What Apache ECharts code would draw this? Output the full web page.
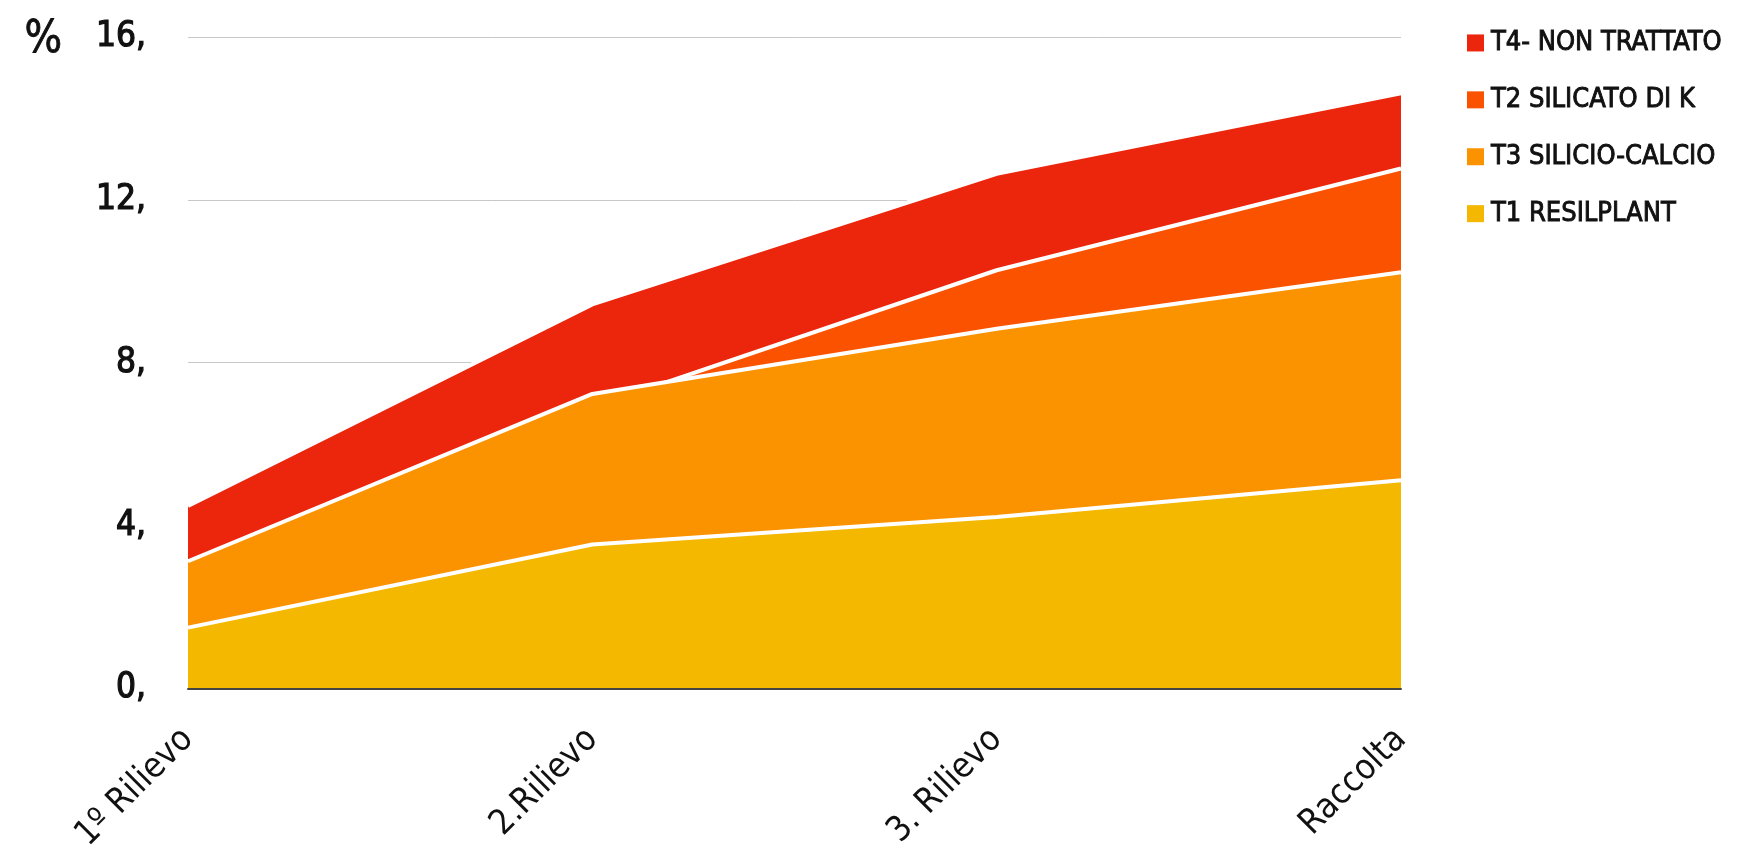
<!DOCTYPE html>
<html>
<head>
<meta charset="utf-8">
<script src="https://cdn.jsdelivr.net/npm/echarts@6/dist/echarts.min.js"></script>
<style>
  html, body { margin: 0; padding: 0; background: #fff; }
  #chart { width: 1737px; height: 855px; }
</style>
</head>
<body>
<div id="chart"></div>
<script>
// categorie asse x
const categories = ['1º Rilievo', '2.Rilievo', '3. Rilievo', 'Raccolta']

// valori (%)
const t4NonTrattato = [4.48, 9.43, 12.64, 14.62]
const t2SilicatoK = [3.0, 6.9, 10.27, 12.77]
const t3SilicioCalcio = [3.12, 7.23, 8.83, 10.22]
const t1Resilplant = [1.49, 3.53, 4.21, 5.11]

const seriesNames = ['T4- NON TRATTATO', 'T2 SILICATO DI K', 'T3 SILICIO-CALCIO', 'T1 RESILPLANT']
const seriesColors = ['#ec250d', '#fb5200', '#fb9300', '#f5b800']
const seriesData = [t4NonTrattato, t2SilicatoK, t3SilicioCalcio, t1Resilplant]

const font = '"DejaVu Sans Condensed", "Noto Sans", sans-serif'

const chart = echarts.init(document.getElementById('chart'))

const option = {
  backgroundColor: '#fff',
  animation: false,
  grid: { left: 188, right: 336, top: 37, bottom: 166, containLabel: false },
  legend: {
    orient: 'vertical',
    left: 1462,
    top: 24,
    itemWidth: 17,
    itemHeight: 17,
    itemGap: 29,
    icon: 'rect',
    textStyle: {
      fontFamily: font, fontSize: 27, color: '#111',
      textBorderColor: '#111', textBorderWidth: 0.9,
      padding: [0, 0, 0, 2]
    },
    data: seriesNames
  },
  graphic: [{
    type: 'text',
    left: 24,
    top: 18,
    style: { text: '%', font: '44px ' + font, fill: '#111', stroke: '#111', lineWidth: 0.8 }
  }],
  xAxis: {
    type: 'category',
    boundaryGap: false,
    data: categories,
    axisLine: { show: true, lineStyle: { color: '#444', width: 2 } },
    axisTick: { show: false },
    axisLabel: {
      rotate: 45,
      margin: 46,
      fontFamily: font,
      fontSize: 35,
      color: '#111'
    },
    z: 10
  },
  yAxis: {
    type: 'value',
    min: 0,
    max: 16,
    interval: 4,
    axisLine: { show: false },
    axisTick: { show: false },
    axisLabel: {
      margin: 42,
      fontFamily: font,
      fontSize: 35,
      color: '#111',
      textBorderColor: '#111',
      textBorderWidth: 1.2,
      formatter: v => v + ','
    },
    splitLine: { lineStyle: { color: '#c8c8c8', width: 1 } }
  },
  series: seriesNames.map((name, i) => ({
    name: name,
    type: 'line',
    data: seriesData[i],
    symbol: 'none',
    color: seriesColors[i],
    lineStyle: { color: '#fff', width: 4 },
    areaStyle: { color: seriesColors[i], opacity: 1 },
    z: 2 + i
  }))
}

chart.setOption(option)
</script>
</body>
</html>
